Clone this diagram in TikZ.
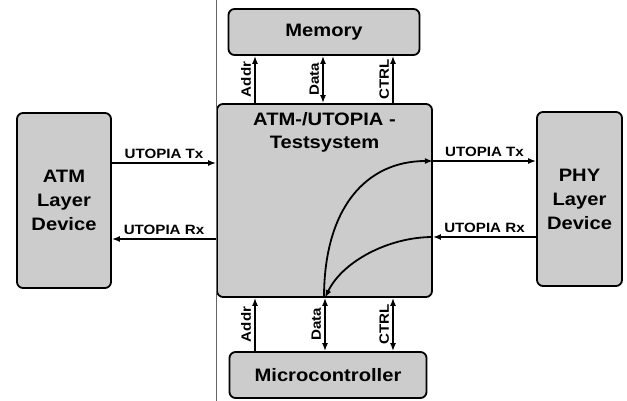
\documentclass[tikz,border=0pt]{standalone}
\usepackage{fontspec}
\setmainfont{Liberation Sans}[FakeStretch=1.12]
\usepackage{tikz}
\usetikzlibrary{arrows.meta,positioning}

\begin{document}
\begin{tikzpicture}[x=1pt,y=-1pt,
    box/.style={rectangle, rounded corners=6pt, draw=black, line width=1.8pt, fill=black!20, inner sep=0pt, align=center, font=\fontsize{18}{24}\selectfont\bfseries},
    conn/.style={draw=black, line width=1.8pt, >={Latex[length=8pt,width=6pt]}},
    lbl/.style={font=\fontsize{13.5}{15}\selectfont\bfseries, inner sep=3pt}
    ]
    \useasboundingbox (0,0) rectangle (627,401);

    % boxes
    \node[box, minimum width=191pt, minimum height=46pt] (mem) at (324,32) {Memory};
    \node[box, minimum width=215pt, minimum height=193pt,
          label={[anchor=north, align=center, yshift=-6pt, font=\fontsize{18}{23}\selectfont\bfseries]north:ATM-/UTOPIA -\\Testsystem}] (test) at (324.5,200.5) {};
    \node[box, minimum width=197pt, minimum height=46pt] (mcu) at (328,375) {Microcontroller};
    \node[box, minimum width=94pt, minimum height=175pt] (atm) at (64,200.5) {ATM\\Layer\\Device};
    \node[box, minimum width=85pt, minimum height=174pt] (phy) at (579.5,199) {PHY\\Layer\\Device};

    % page rule
    \draw[black!60, line width=0.5pt] (test.west |- 0,0) -- (test.west |- 0,401);

    % memory bus
    \draw[conn,->] (test.north -| 255,0) -- node[lbl, midway, rotate=90, anchor=south] {Addr} (mem.south -| 255,0);
    \draw[conn,<->] (test.north -| 323,0) -- node[lbl, midway, rotate=90, anchor=south] {Data} (mem.south -| 323,0);
    \draw[conn,->] (test.north -| 393,0) -- node[lbl, midway, rotate=90, anchor=south] {CTRL} (mem.south -| 393,0);

    % microcontroller bus
    \draw[conn,->] (mcu.north -| 255,0) -- node[lbl, midway, rotate=90, anchor=south] {Addr} (test.south -| 255,0);
    \draw[conn,<->] (mcu.north -| 325,0) -- node[lbl, midway, rotate=90, anchor=south] {Data} (test.south -| 325,0);
    \draw[conn,<->] (mcu.north -| 393,0) -- node[lbl, midway, rotate=90, anchor=south] {CTRL} (test.south -| 393,0);

    % UTOPIA links
    \draw[conn,->] (atm.east |- 0,163) -- node[lbl, midway, above] {UTOPIA Tx} (test.west |- 0,163);
    \draw[conn,<-] (atm.east |- 0,239) -- node[lbl, midway, above] {UTOPIA Rx} (test.west |- 0,239);
    \draw[conn,->] (test.east |- 0,161) -- node[lbl, midway, above] {UTOPIA Tx} (phy.west |- 0,161);
    \draw[conn,<-] (test.east |- 0,237) -- node[lbl, midway, above] {UTOPIA Rx} (phy.west |- 0,237);

    % loops inside the testsystem
    \draw[conn,->] (test.south -| 324,0) .. controls (324,208) and (366,161) .. (test.east |- 0,161);
    \draw[conn,->] (test.east |- 0,237) .. controls (388,237) and (342,262) .. (test.south -| 325,0);
  \end{tikzpicture}
\end{document}
